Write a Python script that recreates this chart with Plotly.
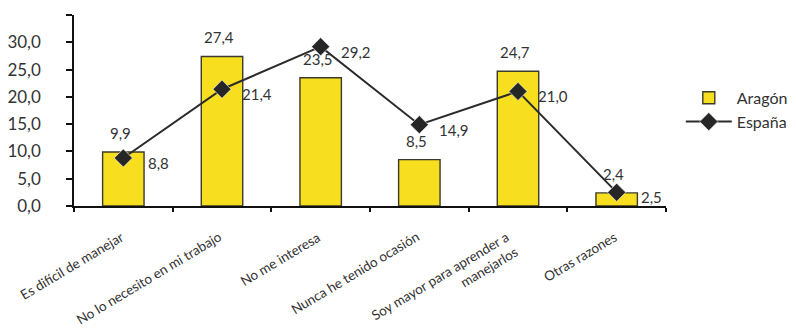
import plotly.graph_objects as go

categories = [
    "Es difícil de manejar",
    "No lo necesito en mi trabajo",
    "No me interesa",
    "Nunca he tenido ocasión",
    "Soy mayor para aprender a<br>manejarlos",
    "Otras razones",
]
aragon = [9.9, 27.4, 23.5, 8.5, 24.7, 2.4]
espana = [8.8, 21.4, 29.2, 14.9, 21.0, 2.5]
y_ticks = [0, 5, 10, 15, 20, 25, 30, 35]

FONT = "Lato"
TXT = "#333333"


def fmt(v):
    return f"{v:.1f}".replace(".", ",")


fig = go.Figure()
fig.add_trace(go.Bar(
    x=categories, y=aragon, name="Aragón",
    width=0.42,
    marker=dict(color="#F7DE1F", line=dict(color="#3b3a2c", width=1.4)),
    hoverinfo="skip",
))
fig.add_trace(go.Scatter(
    x=categories, y=espana, name="España",
    mode="lines+markers",
    line=dict(color="#2b2b2b", width=2),
    marker=dict(symbol="diamond", size=14, color="#262626",
                line=dict(color="#ffffff", width=0.6)),
    hoverinfo="skip",
))

annotations = []
for c, v in zip(categories, aragon):
    annotations.append(dict(x=c, y=v, text=fmt(v), showarrow=False,
                            xanchor="center", yanchor="middle",
                            xshift=-3, yshift=19,
                            font=dict(family=FONT, size=15, color=TXT)))
for c, v in zip(categories, espana):
    annotations.append(dict(x=c, y=v, text=fmt(v), showarrow=False,
                            xanchor="center", yanchor="middle",
                            xshift=35, yshift=-5,
                            font=dict(family=FONT, size=15, color=TXT)))
# category labels (rotated), anchored at their top-right corner
for c in categories:
    annotations.append(dict(x=c, y=0, text=c, showarrow=False,
                            textangle=-31, xanchor="right", yanchor="top",
                            xshift=5, yshift=-20, align="right",
                            font=dict(family=FONT, size=13.5, color=TXT)))

fig.update_layout(
    width=788, height=323,
    margin=dict(l=66, r=130, t=7, b=125, autoexpand=False),
    paper_bgcolor="white", plot_bgcolor="white",
    font=dict(family=FONT, color=TXT),
    showlegend=True,
    legend=dict(x=1.025, xanchor="left", y=0.655, yanchor="top",
                font=dict(family=FONT, size=16, color=TXT),
                itemwidth=46, bgcolor="rgba(0,0,0,0)", tracegroupgap=4),
    annotations=annotations,
    bargap=0.58,
)
fig.update_yaxes(
    range=[0, 35], tickvals=y_ticks,
    ticktext=[fmt(v) if v < 35 else "" for v in y_ticks],
    showline=True, linecolor="#111111", linewidth=1.5,
    ticks="outside", ticklen=6, tickcolor="#111111", tickwidth=1.5,
    ticklabelstandoff=22,
    showgrid=False, zeroline=False,
    tickfont=dict(family=FONT, size=17, color=TXT),
)
fig.update_xaxes(
    range=[-0.5, len(categories) - 0.5], autorange=False,
    showline=True, linecolor="#111111", linewidth=1.5,
    ticks="outside", ticklen=4, tickcolor="#111111", tickwidth=1.5,
    tickson="boundaries",
    showticklabels=False,
    showgrid=False, zeroline=False,
    automargin=False,
)

fig.write_html("out.html")
